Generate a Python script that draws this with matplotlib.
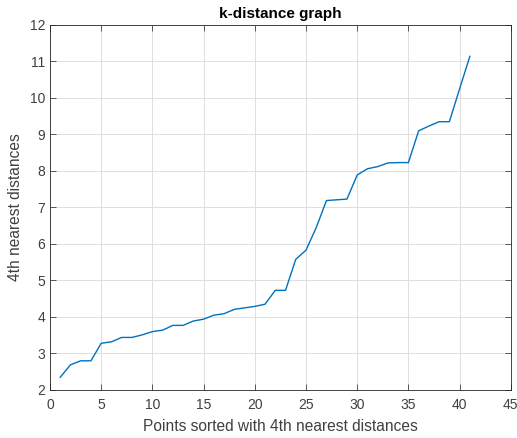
import numpy as np
import matplotlib.pyplot as plt

# sorted 4th nearest neighbour distances
point_idx = list(range(1, 42))
kdist = [2.35, 2.69, 2.80, 2.80, 3.28, 3.32, 3.44, 3.44, 3.51, 3.60,
         3.64, 3.77, 3.77, 3.89, 3.94, 4.05, 4.09, 4.21, 4.25, 4.29,
         4.35, 4.73, 4.73, 5.58, 5.83, 6.45, 7.19, 7.21, 7.23, 7.89,
         8.06, 8.12, 8.22, 8.23, 8.23, 9.10, 9.23, 9.35, 9.35, 10.25,
         11.14]

plt.rcParams['font.family'] = ['Liberation Sans', 'DejaVu Sans']

fig = plt.figure(figsize=(5.17, 4.38), dpi=100)
ax = fig.add_axes([0.0967, 0.1096, 0.8913, 0.8334])

ax.plot(point_idx, kdist, color='#0072BD', linewidth=1.0)

ax.set_xlim(0, 45)
ax.set_ylim(2, 12)
ax.set_xticks(np.arange(0, 46, 5))
ax.set_yticks(np.arange(2, 13, 1))
ax.grid(True, color='#dfdfdf', linewidth=0.7)
ax.set_axisbelow(True)

ax.tick_params(direction='in', top=True, right=True, length=4,
               labelsize=10, colors='#404040', width=0.6)
ax.tick_params(axis='x', pad=6)
for s in ax.spines.values():
    s.set_color('#262626')
    s.set_linewidth(0.6)

ax.set_title('k-distance graph', fontsize=11, fontweight='bold', pad=5)
ax.set_xlabel('Points sorted with 4th nearest distances', fontsize=11.2,
              color='#404040', labelpad=5)
ax.set_ylabel('4th nearest distances', fontsize=11.2, color='#404040',
              labelpad=5)

fig.savefig('out.png', dpi=100)
